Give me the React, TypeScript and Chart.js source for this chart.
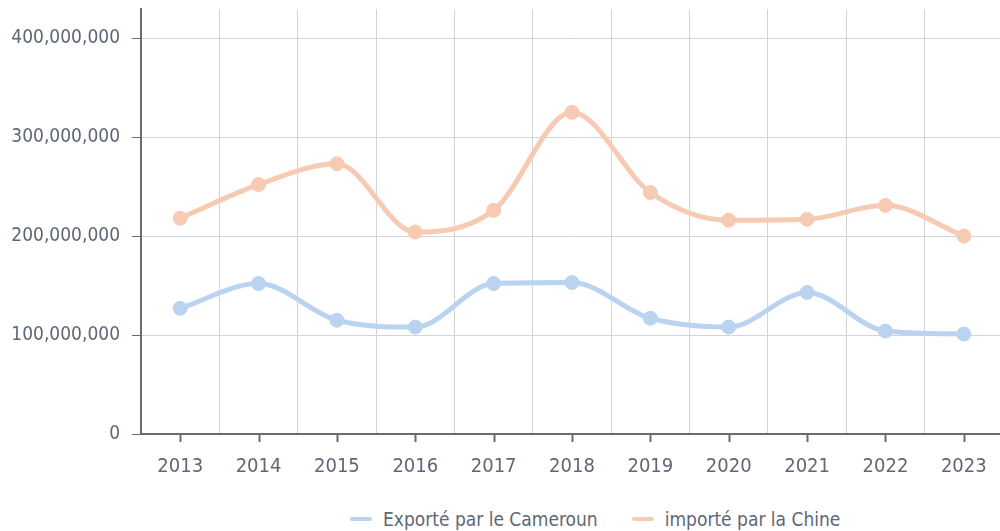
import React, { useEffect, useRef } from "react";
import { Chart, registerables } from "chart.js";

Chart.register(...registerables);

const years = ["2013", "2014", "2015", "2016", "2017", "2018", "2019", "2020", "2021", "2022", "2023"];
const exportCameroun = [127e6, 152e6, 115e6, 108e6, 152e6, 153e6, 117e6, 108e6, 143e6, 104e6, 101e6];
const importChine = [218e6, 252e6, 273e6, 204e6, 226e6, 325e6, 244e6, 216e6, 217e6, 231e6, 200e6];
const seriesLabels = ["Exporté par le Cameroun", "importé par la Chine"];
const seriesColors = ["#bad3f0", "#f6cab3"];
const yTicks = [0, 100e6, 200e6, 300e6, 400e6];

const FONT = "'DejaVu Sans Condensed', 'Liberation Sans Narrow', 'Roboto', sans-serif";
const TEXT = "#606774";

export default function App() {
  const ref = useRef<HTMLCanvasElement | null>(null);

  useEffect(() => {
    if (!ref.current) return;
    const tickPlugin = {
      id: "xTickMarks",
      afterDraw(chart: any) {
        const sx = chart.scales.x;
        const ctx = chart.ctx;
        ctx.save();
        ctx.strokeStyle = "#6b6b6b";
        ctx.lineWidth = 2;
        years.forEach((_, i) => {
          const x = Math.round(sx.getPixelForValue(i)) + 0.5;
          ctx.beginPath();
          ctx.moveTo(x, chart.chartArea.bottom);
          ctx.lineTo(x, chart.chartArea.bottom + 8);
          ctx.stroke();
        });
        ctx.restore();
      },
    };
    const chart = new Chart(ref.current, {
      type: "line",
      data: {
        labels: years,
        datasets: [exportCameroun, importChine].map((d, i) => ({
          label: seriesLabels[i],
          data: d,
          borderColor: seriesColors[i],
          backgroundColor: seriesColors[i],
          pointBackgroundColor: seriesColors[i],
          pointBorderColor: seriesColors[i],
          borderWidth: 5,
          pointRadius: 7,
          pointBorderWidth: 1,
          cubicInterpolationMode: "monotone" as const,
          fill: false,
        })),
      },
      options: {
        responsive: false,
        animation: false,
        layout: { padding: { top: 8, left: 0, right: 0, bottom: 0 } },
        plugins: {
          legend: { display: false },
          tooltip: { enabled: false },
        },
        scales: {
          x: {
            offset: true,
            grid: { offset: true, color: "#d4d4d4", drawTicks: false },
            border: { color: "#6b6b6b", width: 2 },
            ticks: { color: TEXT, font: { family: FONT, size: 20 }, padding: 21, maxRotation: 0 },
            afterFit: (s: any) => { s.height = 56; },
          },
          y: {
            min: 0,
            max: 429e6,
            grid: { color: "#d4d4d4", tickColor: "#6b6b6b", tickLength: 9 },
            border: { color: "#6b6b6b", width: 2 },
            ticks: {
              color: TEXT,
              font: { family: FONT, size: 19 },
              padding: 12,
              callback: (v: any) => Number(v).toLocaleString("en-US"),
            },
            afterBuildTicks: (s: any) => { s.ticks = yTicks.map((v) => ({ value: v })); },
            afterFit: (s: any) => { s.width = 141; },
          },
        },
      },
      plugins: [tickPlugin],
    });
    return () => chart.destroy();
  }, []);

  return (
    <div style={{ position: "fixed", left: 0, top: 0, width: 1000, height: 531, overflow: "hidden", background: "#fff" }}>
      <canvas ref={ref} width={1011} height={504} style={{ display: "block", position: "absolute", left: 0, top: -14 }} />
      <div
        style={{
          position: "absolute",
          left: 350,
          top: 507,
          display: "flex",
          alignItems: "center",
          fontFamily: FONT,
          fontSize: 19,
          color: TEXT,
          whiteSpace: "nowrap",
          lineHeight: "24px",
        }}
      >
        {seriesLabels.map((l, i) => (
          <div key={l} style={{ display: "flex", alignItems: "center", marginRight: i === 0 ? 34 : 0 }}>
            <span style={{ display: "inline-block", width: 22, height: 4, borderRadius: 2, background: seriesColors[i], marginRight: 11 }} />
            <span>{l}</span>
          </div>
        ))}
      </div>
    </div>
  );
}
